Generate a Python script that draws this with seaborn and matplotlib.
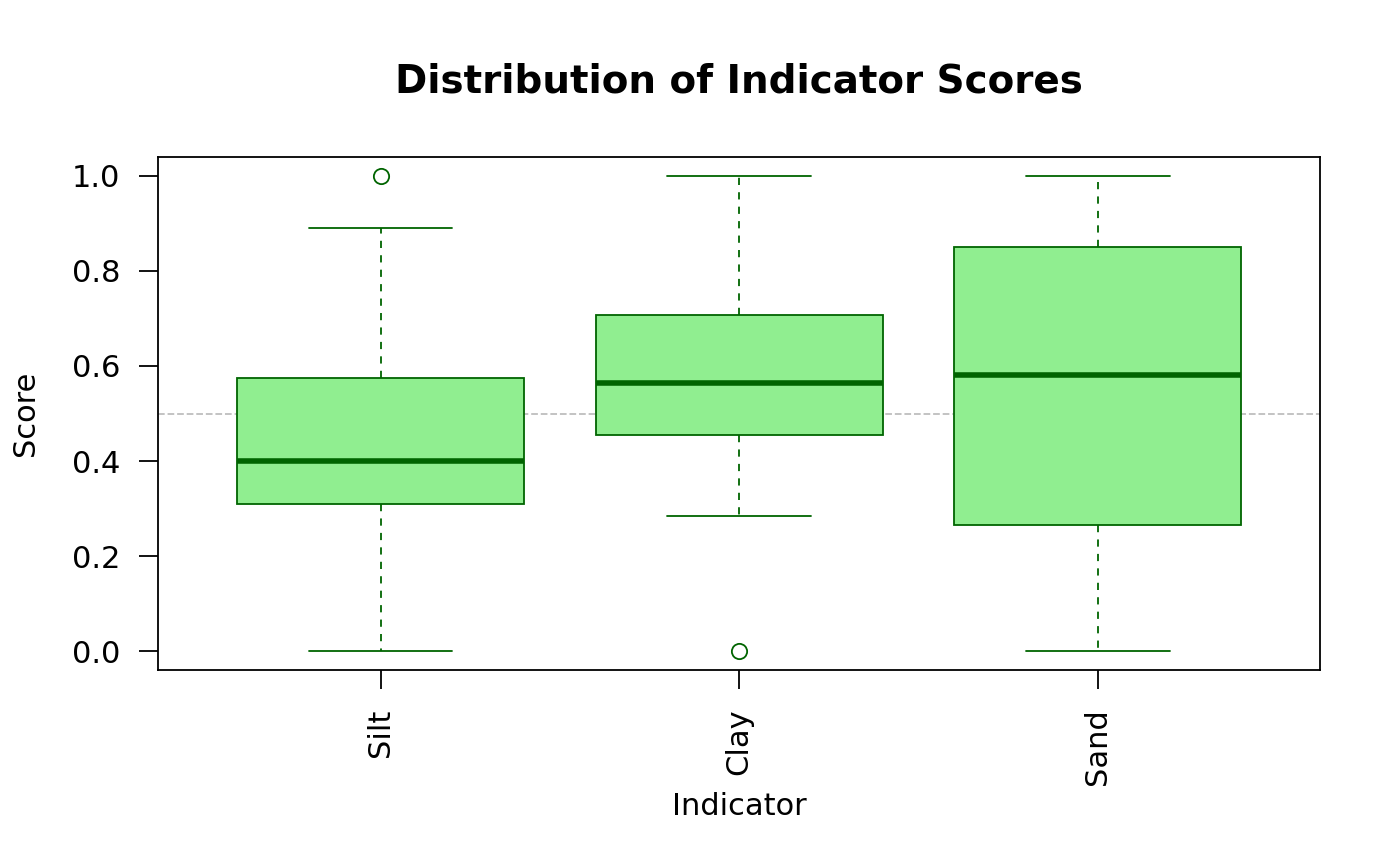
import matplotlib
matplotlib.use("Agg")
import matplotlib.pyplot as plt
import seaborn as sns
import pandas as pd

# Indicator scores
indicators = ["Silt", "Clay", "Sand"]
silt_scores = [0.0, 0.20, 0.31, 0.35, 0.40, 0.50, 0.575, 0.89, 1.0]
clay_scores = [0.0, 0.285, 0.455, 0.50, 0.565, 0.65, 0.707, 0.85, 1.0]
sand_scores = [0.0, 0.10, 0.265, 0.40, 0.58, 0.70, 0.85, 0.95, 1.0]

df = pd.DataFrame({
    "Indicator": ["Silt"] * len(silt_scores) + ["Clay"] * len(clay_scores) + ["Sand"] * len(sand_scores),
    "Score": silt_scores + clay_scores + sand_scores,
})

sns.set_theme(style="white")
plt.rcParams["font.family"] = ["DejaVu Sans"]
plt.rcParams["text.color"] = "black"
plt.rcParams["axes.labelcolor"] = "black"

fig, ax = plt.subplots(figsize=(14, 8.66), dpi=100)
fig.subplots_adjust(left=0.113, right=0.943, top=0.819, bottom=0.226)

# reference line at 0.5
ax.axhline(0.5, color="#BEBEBE", linestyle="--", linewidth=1.3, zorder=0)

sns.boxplot(
    data=df, x="Indicator", y="Score", order=indicators, ax=ax,
    color="#90EE90", saturation=1, linecolor="#006400", linewidth=1.3,
    width=0.8, whis=1.5,
    medianprops=dict(linewidth=4, color="#006400"),
    whiskerprops=dict(linestyle=(0, (4, 4))),
    flierprops=dict(marker="o", markerfacecolor="none", markeredgecolor="#006400",
                    markersize=11, markeredgewidth=1.3),
)

ax.set_xlim(-0.62, 2.62)
ax.set_ylim(-0.04, 1.04)
ax.set_yticks([0.0, 0.2, 0.4, 0.6, 0.8, 1.0])
ax.set_yticklabels(["0.0", "0.2", "0.4", "0.6", "0.8", "1.0"])
ax.tick_params(axis="x", labelrotation=90)
ax.tick_params(direction="out", length=13.5, width=1.3, colors="black", labelsize=22,
               bottom=True, left=True, pad=14)

for sp in ax.spines.values():
    sp.set_color("black")
    sp.set_linewidth(1.3)

ax.set_xlabel("Indicator", fontsize=22, labelpad=5)
ax.set_ylabel("Score", fontsize=22, labelpad=23)
ax.set_title("Distribution of Indicator Scores", fontsize=28, fontweight="bold", pad=46)

fig.savefig("out.png", dpi=100)
